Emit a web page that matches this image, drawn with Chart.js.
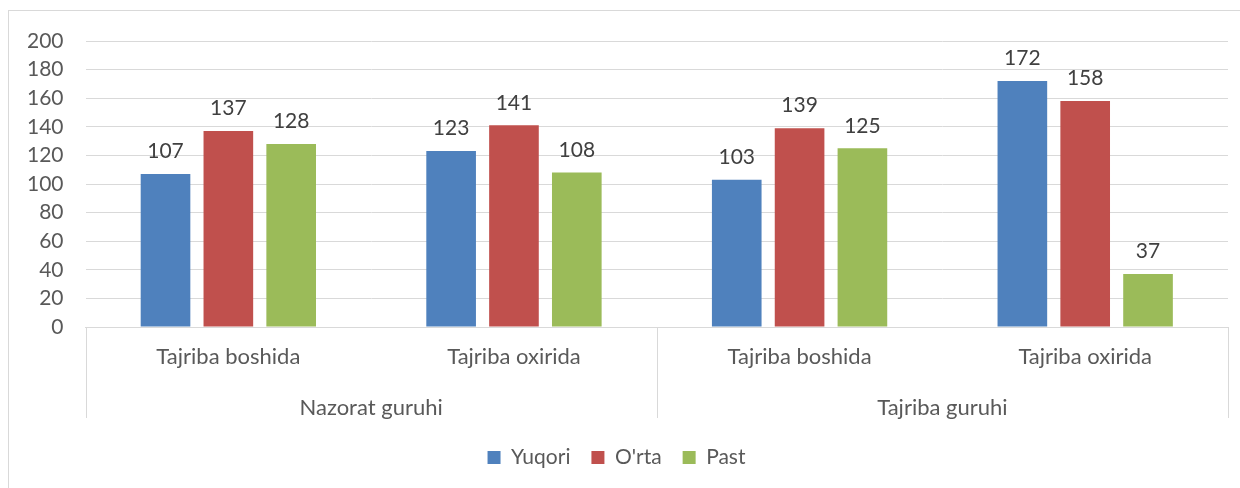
<!DOCTYPE html>
<html>
<head>
<meta charset="utf-8">
<script src="https://cdn.jsdelivr.net/npm/chart.js@4"></script>
<style>
  html, body { margin: 0; padding: 0; background: #fff; }
  #wrap { position: relative; width: 1240px; height: 488px; overflow: hidden; }
  #frame { position: absolute; left: 8px; top: 10px; width: 1260px; height: 500px; border: 1px solid #d9d9d9; pointer-events: none; }
</style>
</head>
<body>
<div id="wrap">
  <canvas id="chart" width="1240" height="488"></canvas>
  <div id="frame"></div>
</div>
<script>
const categories = ['Tajriba boshida', 'Tajriba oxirida', 'Tajriba boshida', 'Tajriba oxirida'];
const groups = ['Nazorat guruhi', 'Tajriba guruhi'];
const yuqori = [107, 123, 103, 172];
const orta = [137, 141, 139, 158];
const past = [128, 108, 125, 37];
const yTicks = [0, 20, 40, 60, 80, 100, 120, 140, 160, 180, 200];

const textColor = '#595959';
const lineColor = '#d9d9d9';
Chart.defaults.font.family = 'Lato, "Open Sans", sans-serif';
Chart.defaults.font.size = 21;
Chart.defaults.color = textColor;

// value labels above the bars
const valueLabels = {
    id: 'valueLabels',
    afterDatasetsDraw(chart) {
        const ctx = chart.ctx;
        ctx.save();
        ctx.font = '21px ' + Chart.defaults.font.family;
        ctx.fillStyle = '#404040';
        ctx.textAlign = 'center';
        ctx.textBaseline = 'bottom';
        chart.data.datasets.forEach((ds, i) => {
            chart.getDatasetMeta(i).data.forEach((bar, j) => {
                ctx.fillText(ds.data[j], bar.x, bar.y - 12);
            });
        });
        ctx.restore();
    }
};

// box lines of the two-level category axis
const groupLines = {
    id: 'groupLines',
    afterDraw(chart) {
        const x = chart.scales.x;
        const x2 = chart.scales.x2;
        const ctx = chart.ctx;
        const top = x.top;
        const bottom = x2.top + 39;
        const step = (x.right - x.left) / categories.length;
        const per = categories.length / groups.length;
        ctx.save();
        ctx.strokeStyle = lineColor;
        ctx.lineWidth = 1;
        ctx.beginPath();
        for (let g = 0; g <= groups.length; g++) {
            const px = Math.round(x.left + g * per * step) + 0.5;
            ctx.moveTo(px, top);
            ctx.lineTo(px, bottom);
        }
        ctx.stroke();
        ctx.restore();
    }
};

new Chart(document.getElementById('chart'), {
    type: 'bar',
    data: {
        labels: categories,
        datasets: [
            { label: 'Yuqori', data: yuqori, backgroundColor: '#4f81bd' },
            { label: "O'rta", data: orta, backgroundColor: '#c0504d' },
            { label: 'Past', data: past, backgroundColor: '#9bbb59' }
        ]
    },
    options: {
        responsive: false,
        animation: false,
        categoryPercentage: 0.66,
        barPercentage: 0.79,
        layout: { padding: { top: 41, right: 12, left: 5, bottom: 10 } },
        scales: {
            y: {
                min: 0,
                max: 200,
                afterBuildTicks(scale) { scale.ticks = yTicks.map(v => ({ value: v })); },
                grid: { color: lineColor, drawTicks: false },
                border: { display: false },
                ticks: { padding: 22, color: textColor, autoSkip: false }
            },
            x: {
                grid: { display: false },
                border: { display: true, color: lineColor },
                ticks: { padding: 9, color: textColor, font: { size: 22 } },
                afterFit(scale) { scale.height = 52; }
            },
            x2: {
                type: 'category',
                labels: groups,
                position: 'bottom',
                grid: { display: false },
                border: { display: false },
                ticks: { padding: 8, color: textColor, font: { size: 22 } },
                afterFit(scale) { scale.height = 47; }
            }
        },
        plugins: {
            legend: {
                position: 'bottom',
                labels: {
                    boxWidth: 13,
                    boxHeight: 13,
                    padding: 21,
                    color: textColor,
                    generateLabels(chart) {
                        return chart.data.datasets.map((ds, i) => ({
                            text: ds.label,
                            fillStyle: ds.backgroundColor,
                            strokeStyle: ds.backgroundColor,
                            lineWidth: 0,
                            datasetIndex: i,
                            fontColor: textColor
                        }));
                    }
                }
            },
            tooltip: { enabled: false }
        }
    },
    plugins: [valueLabels, groupLines]
});
</script>
</body>
</html>
